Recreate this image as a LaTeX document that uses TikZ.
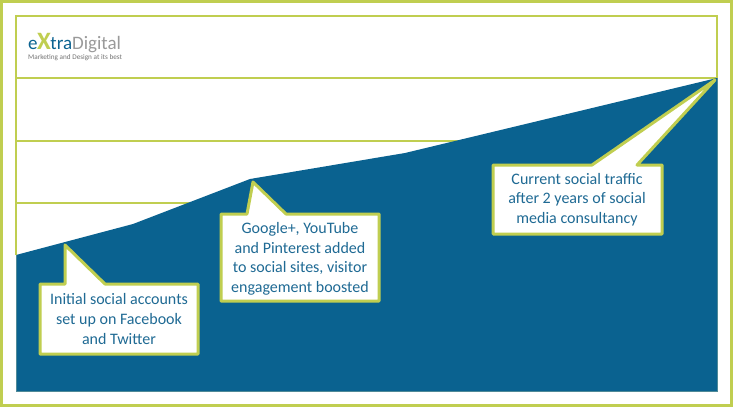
\documentclass[tikz,border=0pt]{standalone}
\usepackage{fontspec}
\setmainfont{Carlito}
\usepackage{tikz}
\definecolor{framegreen}{HTML}{C0CE50}
\definecolor{areablue}{HTML}{0A6290}
\definecolor{edgeteal}{HTML}{4F8A98}
\definecolor{labelblue}{HTML}{1F6A94}
\definecolor{logogrey}{HTML}{9A9A9A}
\tikzset{
  every picture/.style={x=1pt,y=-1pt},
  frameline/.style={draw=framegreen, line width=2pt},
  calloutbox/.style={draw=framegreen, line width=3pt, fill=white, line join=round},
  callouttext/.style={text=labelblue, font=\fontsize{16}{19.6}\selectfont, align=center, inner sep=0pt},
}
\begin{document}
\begin{tikzpicture}
  \useasboundingbox (0,0) rectangle (733,407);
  \fill[white] (0,0) rectangle (733,407);
  % outer frame
  \draw[frameline, line width=3pt] (1,1) rectangle (731.5,405.5);
  % grid lines go under the area
  \draw[frameline] (16,78) -- (717,78);
  \draw[frameline] (16,141) -- (500,141);
  \draw[frameline] (16,203) -- (250,203);
  \fill[areablue] (16,255) -- (133,224) -- (250,179) -- (405,153) -- (717,78) -- (717,391) -- (16,391) -- cycle;
  \draw[frameline] (16,255) -- (16,16) -- (717,16) -- (717,78);
  \draw[edgeteal, line width=1pt] (16,255) -- (16,391) -- (717,391) -- (717,78);
  % logo
  \node (logomain) [anchor=base west, inner sep=0pt, font=\fontsize{19}{19}\selectfont] at (28,49)
    {\textcolor{areablue}{e}\kern-0.5pt\textcolor{framegreen}{\fontsize{25}{25}\selectfont\textbf{X}}\kern-0.5pt\textcolor{areablue}{tra}\textcolor{logogrey}{Digital}};
  \node (logosub) [anchor=base west, inner sep=0pt, text=logogrey!75!black, font=\fontsize{7.2}{8}\selectfont] at (28,59.5)
    {Marketing and Design at its best};
  % callouts
  \draw[calloutbox] (40,284) -- (65,284) -- (65,245) -- (105,284) -- (198,284) -- (198,354) -- (40,354) -- cycle;
  \node (initial) [callouttext] at (119,319) {Initial social accounts\\set up on Facebook\\and Twitter};
  \draw[calloutbox] (221,214) -- (247,214) -- (253,182) -- (286,214) -- (379,214) -- (379,301) -- (221,301) -- cycle;
  \node (boosted) [callouttext] at (300,259) {Google+, YouTube\\and Pinterest added\\to social sites, visitor\\engagement boosted};
  \draw[calloutbox] (493,165) -- (592,165) -- (715,80) -- (637,165) -- (662,165) -- (662,234) -- (493,234) -- cycle;
  \node (current) [callouttext] at (577,199.5) {Current social traffic\\after 2 years of social\\media consultancy};
\end{tikzpicture}
\end{document}
